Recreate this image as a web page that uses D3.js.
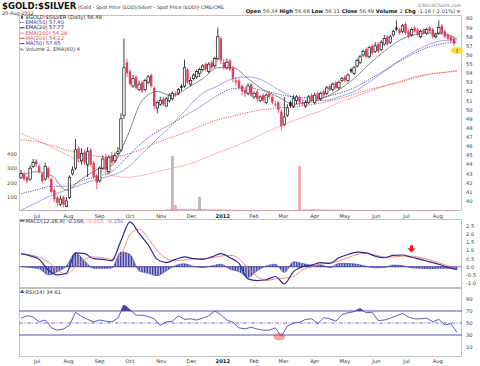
<!DOCTYPE html>
<html>
<head>
<meta charset="utf-8">
<script src="https://cdn.jsdelivr.net/npm/d3@7"></script>
<style>
  body { margin: 0; background: #fff; }
  text { font-family: "DejaVu Sans", Verdana, sans-serif; }
</style>
</head>
<body>
<div id="chart"></div>
<script>
// one candle every 3 days, 15-Jun-2011 .. 20-Aug-2012
var firstDay = new Date(2011, 5, 15);

var opens = [
  42.6, 43.0, 42.6, 42.4, 43.8, 44.4, 43.8, 43.0, 42.4, 43.6,
  42.4, 41.2, 40.4, 39.6, 40.4, 39.4, 40.4, 43.0, 43.6, 45.8,
  44.4, 45.4, 44.0, 45.6, 44.2, 42.8, 42.2, 43.6, 44.8, 43.2,
  45.0, 44.4, 45.2, 45.6, 49.4, 55.2, 54.2, 52.6, 53.6, 52.2,
  53.0, 52.2, 53.0, 53.8, 52.4, 50.2, 50.6, 51.2, 50.4, 51.0,
  51.2, 51.8, 51.8, 52.6, 52.6, 54.4, 52.8, 53.4, 53.6, 54.0,
  54.4, 55.0, 54.2, 55.2, 54.8, 55.6, 57.8, 55.2, 54.6, 55.4,
  54.6, 53.2, 53.2, 52.6, 52.2, 51.8, 52.8, 51.4, 52.0, 51.0,
  51.6, 50.8, 51.8, 51.4, 50.6, 50.8, 49.8, 48.4, 49.4, 50.8,
  50.4, 51.0, 51.4, 50.8, 50.4, 50.8, 51.6, 50.8, 51.8, 51.2,
  52.0, 51.8, 52.6, 52.2, 53.0, 52.4, 53.2, 53.6, 53.2, 54.4,
  54.0, 54.8, 55.2, 56.0, 56.6, 55.8, 57.0, 56.4, 57.2, 56.6,
  57.2, 58.0, 57.4, 58.2, 59.0, 58.8, 58.6, 59.4, 58.6, 58.2,
  59.0, 58.8, 58.0, 58.8, 58.4, 59.0, 58.8, 58.0, 58.4, 59.2,
  58.6, 58.2, 58.0, 57.8, 56.34
];
var highs = [
  43.4, 43.2, 42.8, 43.9, 44.6, 44.6, 44.0, 43.2, 44.2, 43.8,
  42.6, 41.4, 40.6, 40.6, 40.6, 40.4, 42.8, 43.8, 46.8, 46.0,
  45.8, 45.6, 45.9, 45.8, 44.4, 43.0, 43.8, 45.0, 45.2, 45.0,
  45.4, 45.3, 45.9, 49.6, 57.8, 55.6, 54.4, 53.8, 53.8, 53.2,
  53.2, 53.4, 53.8, 54.0, 52.6, 51.0, 51.4, 51.4, 51.4, 51.8,
  52.0, 52.0, 52.4, 52.8, 55.5, 54.6, 53.6, 54.0, 54.4, 54.6,
  55.0, 55.2, 55.2, 55.4, 55.8, 59.0, 58.0, 55.6, 55.6, 55.6,
  54.8, 53.6, 53.4, 52.8, 52.4, 52.9, 52.9, 52.0, 52.2, 51.6,
  51.8, 51.8, 52.0, 51.6, 51.0, 51.0, 50.0, 51.4, 50.6, 51.0,
  51.6, 51.6, 51.6, 51.0, 51.0, 51.6, 51.8, 51.9, 52.0, 52.0,
  52.2, 52.6, 52.8, 53.0, 53.2, 53.2, 53.6, 53.8, 54.0, 54.6,
  54.8, 55.6, 56.0, 56.6, 56.8, 57.0, 57.2, 57.4, 57.4, 57.6,
  58.2, 58.2, 58.2, 58.8, 59.8, 59.0, 59.4, 59.6, 58.8, 59.0,
  59.2, 59.0, 58.8, 58.9, 59.0, 59.2, 59.0, 58.4, 59.8, 59.4,
  58.8, 58.4, 58.2, 58.0, 56.68
];
var lows = [
  42.4, 42.2, 41.9, 42.2, 43.6, 43.7, 43.0, 41.9, 42.2, 42.4,
  40.8, 39.9, 39.4, 39.4, 39.3, 39.3, 40.2, 42.8, 43.4, 44.2,
  44.0, 44.0, 42.6, 43.8, 42.4, 41.3, 42.0, 43.4, 43.1, 43.0,
  44.0, 44.2, 45.0, 45.4, 49.0, 53.6, 52.6, 52.4, 52.2, 52.0,
  51.8, 52.0, 52.8, 52.4, 50.0, 49.6, 50.4, 50.4, 50.3, 50.8,
  51.0, 51.4, 51.6, 52.0, 52.4, 52.8, 52.6, 53.2, 53.4, 53.6,
  54.2, 54.2, 54.0, 54.4, 54.6, 55.4, 55.0, 54.4, 54.4, 54.2,
  53.0, 52.6, 52.2, 51.6, 51.4, 51.6, 51.4, 51.2, 50.8, 50.8,
  50.8, 50.6, 51.2, 50.6, 50.3, 49.6, 47.7, 48.2, 49.2, 50.2,
  50.2, 50.6, 50.4, 50.4, 50.2, 50.6, 50.8, 50.6, 51.0, 51.0,
  51.4, 51.6, 52.0, 52.0, 52.2, 52.2, 53.0, 53.0, 53.0, 54.0,
  53.8, 54.6, 55.0, 55.8, 55.6, 55.6, 56.0, 56.2, 56.2, 56.4,
  57.0, 57.0, 57.2, 58.0, 58.6, 58.2, 58.4, 58.2, 57.8, 58.0,
  58.4, 58.0, 57.8, 58.2, 58.2, 58.4, 57.8, 57.8, 58.2, 58.2,
  57.8, 57.6, 57.4, 57.0, 56.11
];
var closes = [
  43.0, 42.4, 42.2, 43.6, 44.2, 44.0, 43.2, 42.2, 43.8, 42.6,
  41.0, 40.2, 39.8, 40.2, 39.6, 40.0, 42.6, 43.4, 45.6, 44.6,
  45.2, 44.2, 45.4, 44.0, 42.6, 42.0, 43.6, 44.6, 43.4, 44.8,
  44.2, 45.0, 45.4, 49.0, 54.6, 54.0, 52.8, 53.4, 52.4, 52.8,
  52.0, 53.2, 53.6, 52.6, 50.4, 50.8, 51.0, 50.6, 51.2, 51.6,
  51.8, 51.6, 52.2, 52.4, 54.6, 53.0, 53.2, 53.8, 54.2, 54.4,
  54.8, 54.4, 55.0, 54.6, 55.6, 58.0, 55.4, 54.6, 55.2, 54.4,
  53.4, 53.0, 52.4, 52.0, 51.8, 52.6, 51.6, 51.8, 51.2, 51.4,
  51.0, 51.6, 51.4, 50.8, 50.6, 50.0, 48.2, 49.2, 50.2, 50.4,
  51.2, 51.4, 50.8, 50.6, 50.8, 51.4, 51.0, 51.6, 51.2, 51.8,
  51.6, 52.4, 52.2, 52.8, 52.4, 53.0, 53.4, 53.2, 53.8, 54.2,
  54.6, 55.4, 55.8, 56.4, 55.8, 56.8, 56.2, 57.0, 56.4, 57.4,
  57.8, 57.2, 58.0, 58.6, 58.8, 58.4, 59.2, 58.4, 58.0, 58.8,
  58.6, 58.2, 58.6, 58.4, 58.8, 58.6, 58.0, 58.2, 59.0, 58.4,
  58.0, 57.8, 57.6, 57.2, 56.49
];
var volumes = [
  2, 2, 3, 2, 2, 1, 2, 2, 3, 2,
  2, 2, 3, 2, 2, 2, 3, 2, 4, 3,
  2, 2, 3, 2, 2, 3, 2, 2, 2, 2,
  2, 2, 2, 3, 5, 4, 3, 2, 2, 2,
  2, 2, 2, 2, 3, 2, 2, 2, 2, 2,
  385, 40, 3, 2, 2, 3, 2, 2, 2, 100,
  2, 2, 2, 2, 3, 4, 3, 2, 2, 2,
  2, 2, 2, 2, 2, 2, 2, 2, 2, 2,
  2, 2, 2, 2, 2, 2, 3, 2, 2, 2,
  2, 2, 315, 4, 2, 2, 2, 2, 2, 2,
  2, 2, 2, 2, 2, 2, 2, 2, 2, 2,
  2, 2, 2, 2, 2, 2, 2, 2, 2, 2,
  2, 2, 2, 2, 2, 2, 2, 2, 2, 2,
  2, 2, 2, 2, 2, 2, 2, 2, 2, 2,
  2, 2, 2, 2, 2
];

// overlays, read at every 5th candle
var maIdx  = [0, 5, 10, 15, 20, 25, 30, 35, 40, 45, 50, 55, 60, 65, 70, 75, 80, 85, 90, 95, 100, 105, 110, 115, 120, 125, 130, 135, 140, 144];
var ema20  = [42.8, 43.2, 42.8, 41.2, 42.4, 43.4, 43.9, 47.0, 51.0, 52.0, 51.5, 52.4, 53.4, 54.6, 54.6, 53.4, 52.2, 51.4, 50.6, 50.9, 51.3, 52.2, 53.4, 55.0, 56.4, 57.6, 58.2, 58.4, 58.3, 57.77];
var ema50  = [40.8, 41.2, 41.6, 41.6, 42.2, 42.7, 43.2, 44.8, 46.4, 47.6, 48.5, 49.5, 50.5, 51.6, 52.3, 52.4, 52.1, 51.7, 51.4, 51.3, 51.4, 51.8, 52.4, 53.3, 54.3, 55.3, 56.2, 56.9, 57.3, 57.40];
var ma50   = [39.0, 39.8, 40.6, 41.2, 41.8, 42.4, 42.8, 43.6, 45.2, 46.8, 48.4, 50.2, 51.8, 52.6, 53.4, 53.6, 53.2, 52.2, 51.4, 51.0, 51.0, 51.4, 52.0, 53.0, 54.2, 55.4, 56.4, 57.2, 57.6, 57.65];
var ema200 = [46.7, 46.5, 46.1, 45.6, 45.2, 44.9, 44.8, 45.1, 45.7, 46.4, 47.0, 47.6, 48.3, 48.9, 49.3, 49.7, 50.0, 50.2, 50.3, 50.5, 50.8, 51.2, 51.7, 52.2, 52.6, 53.0, 53.5, 53.9, 54.1, 54.28];
var ma200  = [47.4, 46.7, 45.9, 45.1, 44.2, 43.5, 42.8, 42.6, 42.8, 43.2, 43.6, 44.0, 44.6, 45.3, 45.9, 46.6, 47.4, 48.1, 48.8, 49.4, 50.0, 50.8, 51.4, 52.0, 52.6, 53.1, 53.6, 53.9, 54.1, 54.22];
var volEma60 = [2, 2, 2, 2, 2, 2, 2, 2, 2, 2, 14, 12, 12, 9, 7, 5, 4, 3, 3, 11, 9, 7, 5, 4, 3, 3, 3, 3, 4, 4];

// MACD(12,26,9), read at every 3rd candle
var macdIdx = d3.range(0, 145, 3);
var macdLine = [
  0.8, 0.67, 0.45, -0.2, -0.5, -0.4, 0.85, 0.8, 0.5, 0.45,
  0.37, 1.6, 2.75, 2.05, 1.35, 0.45, 0.25, 0.45, 0.6, 0.5,
  0.45, 0.6, 0.8, 0.55, 0.2, -0.75, -0.85, -0.8, -0.6, -1.05,
  -0.3, 0.0, 0.1, 0.25, 0.2, 0.55, 0.75, 0.9, 0.85, 0.65,
  0.55, 0.7, 0.72, 0.58, 0.45, 0.3, 0.15, -0.05, -0.166
];
var macdSignal = [
  0.78, 0.72, 0.58, 0.3, -0.2, -0.45, 0.0, 0.45, 0.6, 0.55,
  0.45, 0.7, 2.0, 2.3, 1.75, 1.0, 0.5, 0.38, 0.42, 0.48,
  0.5, 0.55, 0.65, 0.7, 0.5, -0.1, -0.6, -0.85, -0.75, -0.7,
  -0.6, -0.2, 0.0, 0.15, 0.25, 0.35, 0.55, 0.75, 0.82, 0.72,
  0.6, 0.6, 0.65, 0.65, 0.55, 0.42, 0.25, 0.05, -0.015
];

// RSI(14), read at every 2nd candle
var rsiIdx = d3.range(0, 145, 2);
var rsiVals = [
  58, 62, 60, 52, 55, 42, 38, 40, 46, 68,
  61, 56, 52, 55, 53, 52, 58, 80, 72, 63,
  63, 61, 57, 46, 52, 53, 62, 56, 57, 55,
  58, 62, 70, 64, 55, 51, 42, 40, 43, 40,
  38, 38, 42, 28, 45, 50, 51, 56, 57, 49,
  59, 57, 53, 64, 67, 69, 74, 67, 68, 54,
  55, 58, 62, 66, 60, 57, 57, 58, 52, 56,
  47, 49, 34.61
];

var monthLabels = ["Jul", "Aug", "Sep", "Oct", "Nov", "Dec", "2012", "Feb", "Mar", "Apr", "May", "Jun", "Jul", "Aug"];
var priceTicks = d3.range(40, 61);
var volTicks = [100, 200, 300, 400];
var macdTicks = [-1.0, -0.5, 0.0, 0.5, 1.0, 1.5, 2.0, 2.5];
var rsiTicks = [10, 30, 50, 70, 90];

var L = 19, R = 462;
var mainTop = 15, mainBot = 211;
var macdTop = 219, macdBot = 288;
var rsiTop = 288, rsiBot = 357;

var RED = "#e0405e", BLK = "#111";

var dayOf = function(i) { return d3.timeDay.offset(firstDay, 3 * i); };

var x = d3.scaleTime().domain([new Date(2011, 5, 13), new Date(2012, 7, 24)]).range([19, 461]);
var yP = d3.scaleLinear().domain([38.9, 60.6]).range([211, 13]);
var yV = d3.scaleLinear().domain([0, 400]).range([211.3, 154]);
var yM = d3.scaleLinear().domain([-1, 2.5]).range([283, 226]);
var yR = d3.scaleLinear().domain([10, 90]).range([347, 299]);

var svg = d3.select("#chart").append("svg").attr("width", 480).attr("height", 366);
svg.append("rect").attr("width", 480).attr("height", 366).attr("fill", "#fff");

var defs = svg.append("defs");
var clip = function(id, y0, y1) {
  defs.append("clipPath").attr("id", id).append("rect")
    .attr("x", L).attr("y", y0).attr("width", R - L).attr("height", y1 - y0);
};
clip("cMain", mainTop, mainBot);
clip("cMacd", macdTop, macdBot);
clip("cRsi", rsiTop, rsiBot);
defs.append("pattern").attr("id", "hatch").attr("patternUnits", "userSpaceOnUse")
  .attr("width", 1.6).attr("height", 4)
  .append("rect").attr("width", 1).attr("height", 4).attr("fill", "#2e2e9c");

var txt = function(g, xx, yy, s, size, col, anchor) {
  return g.append("text").attr("x", xx).attr("y", yy).attr("font-size", size)
    .attr("fill", col || "#333").attr("text-anchor", anchor || "start").text(s);
};

// ---------- header ----------
var t = svg.append("text").attr("x", 2).attr("y", 9);
t.append("tspan").attr("font-size", 8.5).attr("font-weight", "bold").attr("fill", "#111").text("$GOLD:$SILVER");
t.append("tspan").attr("font-size", 4.9).attr("fill", "#333").text(" (Gold - Spot Price (EOD)/Silver - Spot Price (EOD)) CME/CME");
txt(svg, 2, 14.5, "20-Aug-2012", 4.9, "#333");
txt(svg, 461, 6.5, "\u00a9StockCharts.com", 4.6, "#777", "end");

var info = [["Open", "56.34"], ["High", "56.68"], ["Low", "56.11"], ["Close", "56.49"], ["Volume", "2"], ["Chg", "-1.16 (-2.01%)"]];
var it = svg.append("text").attr("x", 455).attr("y", 13).attr("text-anchor", "end").attr("font-size", 5.2);
info.forEach(function(p, k) {
  it.append("tspan").attr("font-weight", "bold").attr("fill", "#111").text((k ? " " : "") + p[0] + " ");
  it.append("tspan").attr("fill", "#444").text(p[1]);
});
svg.append("path").attr("d", "M456.5,10.5 L460.5,10.5 L458.5,13 Z").attr("fill", RED);

// ---------- frames ----------
[[mainTop, mainBot], [macdTop, macdBot], [rsiTop, rsiBot]].forEach(function(p) {
  svg.append("rect").attr("x", L + 0.5).attr("y", p[0] + 0.5).attr("width", R - L - 1).attr("height", p[1] - p[0] - 1)
    .attr("fill", "none").attr("stroke", "#b4b4b4").attr("stroke-width", 0.8);
});

// ---------- month labels ----------
var months = d3.timeMonth.range(new Date(2011, 6, 1), new Date(2012, 7, 2));
[mainBot + 7, rsiBot + 6].forEach(function(yy) {
  months.forEach(function(m, k) {
    var lab = txt(svg, x(m), yy, monthLabels[k], 5.2, "#333", "middle");
    if (monthLabels[k] === "2012") lab.attr("font-weight", "bold").attr("fill", "#111");
  });
});

// ---------- right axes ----------
priceTicks.forEach(function(v) { txt(svg, R + 4, yP(v) + 2, String(v), 5.2, "#444"); });
macdTicks.forEach(function(v) { txt(svg, R + 4, yM(v) + 2, v.toFixed(1), 5.2, "#444"); });
rsiTicks.forEach(function(v) { txt(svg, R + 4, yR(v) + 2, String(v), 5.2, "#444"); });
volTicks.forEach(function(v) { txt(svg, L - 2, yV(v) + 2, String(v), 5.2, "#444", "end"); });

// ---------- price panel ----------
var candles = closes.map(function(c, i) {
  return { date: dayOf(i), o: opens[i], h: highs[i], l: lows[i], c: c, v: volumes[i],
           up: i === 0 ? true : c >= closes[i - 1] };
});
var gm = svg.append("g").attr("clip-path", "url(#cMain)");

// volume
gm.selectAll("rect.vol").data(candles).enter().append("rect")
  .attr("x", function(d) { return x(d.date) - 0.9; })
  .attr("width", 1.8)
  .attr("y", function(d) { return yV(d.v); })
  .attr("height", function(d) { return yV(0) - yV(d.v); })
  .attr("fill", function(d) { return d.up ? "#b9b9b9" : "#f3a4b0"; })
  .attr("stroke", function(d) { return d.up ? "#8e8e8e" : "#e8788c"; })
  .attr("stroke-width", 0.4);

var maPts = function(vals) { return vals.map(function(v, k) { return { date: dayOf(maIdx[k]), v: v }; }); };
var lineP = d3.line().x(function(d) { return x(d.date); }).y(function(d) { return yP(d.v); }).curve(d3.curveMonotoneX);
var lineV = d3.line().x(function(d) { return x(d.date); }).y(function(d) { return yV(d.v); }).curve(d3.curveMonotoneX);

gm.append("path").attr("d", lineV(maPts(volEma60))).attr("fill", "none").attr("stroke", "#f08a9a").attr("stroke-width", 0.8);

var overlays = [
  { vals: ma200, col: "#f5a3a3", w: 0.8, dash: null },
  { vals: ema200, col: "#e8494f", w: 0.9, dash: "1.2,1.2" },
  { vals: ma50, col: "#8d8de0", w: 0.8, dash: null },
  { vals: ema50, col: "#3a3aa8", w: 0.9, dash: "1.2,1.2" },
  { vals: ema20, col: "#555", w: 0.7, dash: null }
];
overlays.forEach(function(o) {
  gm.append("path").attr("d", lineP(maPts(o.vals))).attr("fill", "none")
    .attr("stroke", o.col).attr("stroke-width", o.w).attr("stroke-dasharray", o.dash);
});

var cg = gm.selectAll("g.cdl").data(candles).enter().append("g");
cg.append("line")
  .attr("x1", function(d) { return x(d.date); }).attr("x2", function(d) { return x(d.date); })
  .attr("y1", function(d) { return yP(d.h); }).attr("y2", function(d) { return yP(d.l); })
  .attr("stroke", function(d) { return d.up ? BLK : RED; }).attr("stroke-width", 0.8);
cg.append("rect")
  .attr("x", function(d) { return x(d.date) - 1.2; })
  .attr("width", 2.4)
  .attr("y", function(d) { return yP(Math.max(d.o, d.c)); })
  .attr("height", function(d) { return Math.max(0.8, Math.abs(yP(d.o) - yP(d.c))); })
  .attr("fill", function(d) { return d.c > d.o ? "#fff" : (d.up ? BLK : RED); })
  .attr("stroke", function(d) { return d.up ? BLK : RED; })
  .attr("stroke-width", function(d) { return d.c > d.o ? 0.7 : 0; });

// last price marker
var last = candles[candles.length - 1];
svg.append("ellipse").attr("cx", x(last.date)).attr("cy", yP(last.c)).attr("rx", 6).attr("ry", 3.6).attr("fill", "#f2e33a");
txt(svg, x(last.date), yP(last.c) + 2, "!", 5.5, RED, "middle").attr("font-weight", "bold");

// legend
var leg = [
  { s: "$GOLD:$SILVER (Daily) 56.49", col: "#222", icon: "cdl" },
  { s: "EMA(50) 57.40", col: "#3a3aa8", dash: "1.2,1" },
  { s: "EMA(20) 57.77", col: "#222" },
  { s: "EMA(200) 54.28", col: "#e8494f", dash: "1.2,1" },
  { s: "MA(200) 54.22", col: "#e8494f" },
  { s: "MA(50) 57.65", col: "#3a3aa8" },
  { s: "Volume 2, EMA(60) 4", col: "#444", icon: "vol" }
];
leg.forEach(function(d, k) {
  var yy = 18.8 + k * 5.3;
  if (d.icon === "cdl") {
    svg.append("line").attr("x1", 22).attr("x2", 22).attr("y1", yy - 3.2).attr("y2", yy + 0.2).attr("stroke", "#222").attr("stroke-width", 0.6);
    svg.append("rect").attr("x", 21.2).attr("y", yy - 2.5).attr("width", 1.6).attr("height", 2).attr("fill", "#222");
  } else if (d.icon === "vol") {
    svg.append("rect").attr("x", 20.5).attr("y", yy - 2.6).attr("width", 1.2).attr("height", 2.6).attr("fill", "#777");
    svg.append("rect").attr("x", 22.2).attr("y", yy - 1.6).attr("width", 1.2).attr("height", 1.6).attr("fill", "#777");
  } else {
    svg.append("line").attr("x1", 20).attr("x2", 24.5).attr("y1", yy - 1.6).attr("y2", yy - 1.6)
      .attr("stroke", d.col).attr("stroke-width", 1).attr("stroke-dasharray", d.dash || null);
  }
  txt(svg, 25.5, yy, d.s, 5.2, d.col);
});

// ---------- MACD ----------
var gd = svg.append("g").attr("clip-path", "url(#cMacd)");
var mPts = macdIdx.map(function(i, k) {
  return { date: dayOf(i), m: macdLine[k], s: macdSignal[k], h: macdLine[k] - macdSignal[k] };
});
var areaH = d3.area().x(function(d) { return x(d.date); }).y0(yM(0)).y1(function(d) { return yM(d.h); }).curve(d3.curveMonotoneX);
gd.append("path").attr("d", areaH(mPts)).attr("fill", "url(#hatch)").attr("stroke", "#3c3cb0").attr("stroke-width", 0.6);
gd.append("line").attr("x1", L).attr("x2", R).attr("y1", yM(0)).attr("y2", yM(0)).attr("stroke", "#3c3cb0").attr("stroke-width", 0.6);
gd.append("path").attr("d", d3.line().x(function(d) { return x(d.date); }).y(function(d) { return yM(d.s); }).curve(d3.curveMonotoneX)(mPts))
  .attr("fill", "none").attr("stroke", "#f0806e").attr("stroke-width", 0.9);
gd.append("path").attr("d", d3.line().x(function(d) { return x(d.date); }).y(function(d) { return yM(d.m); }).curve(d3.curveMonotoneX)(mPts))
  .attr("fill", "none").attr("stroke", "#2a2a96").attr("stroke-width", 1.2);

// red arrow over July 2012 MACD top
var ax = x(dayOf(129)), ay = yM(0.95);
svg.append("path")
  .attr("d", "M" + (ax - 1.5) + "," + (ay - 6) + " h3 v3 h2.5 l-4,4.5 l-4,-4.5 h2.5 Z")
  .attr("fill", "#e02020");

svg.append("line").attr("x1", 20).attr("x2", 24.5).attr("y1", 220.8).attr("y2", 220.8).attr("stroke", "#2a2a96").attr("stroke-width", 1.2);
var mt = svg.append("text").attr("x", 25.5).attr("y", 222.6).attr("font-size", 5.2);
mt.append("tspan").attr("fill", "#333").text("MACD(12,26,9) ");
mt.append("tspan").attr("fill", "#2a2a96").text("-0.166, ");
mt.append("tspan").attr("fill", "#f0806e").text("-0.015, ");
mt.append("tspan").attr("fill", "#6a6ad0").text("-0.150");

// ---------- RSI ----------
var gr = svg.append("g").attr("clip-path", "url(#cRsi)");
var rPts = rsiIdx.map(function(i, k) { return { date: dayOf(i), v: rsiVals[k] }; });
defs.append("clipPath").attr("id", "cHi").append("rect").attr("x", L).attr("y", rsiTop).attr("width", R - L).attr("height", yR(70) - rsiTop);
defs.append("clipPath").attr("id", "cLo").append("rect").attr("x", L).attr("y", yR(30)).attr("width", R - L).attr("height", rsiBot - yR(30));
var rArea = function(lvl) {
  return d3.area().x(function(d) { return x(d.date); }).y0(yR(lvl)).y1(function(d) { return yR(d.v); }).curve(d3.curveMonotoneX);
};
gr.append("path").attr("d", rArea(70)(rPts)).attr("fill", "#4444b0").attr("clip-path", "url(#cHi)");
gr.append("path").attr("d", rArea(30)(rPts)).attr("fill", "#4444b0").attr("clip-path", "url(#cLo)");
[70, 30].forEach(function(v) {
  gr.append("line").attr("x1", L).attr("x2", R).attr("y1", yR(v)).attr("y2", yR(v)).attr("stroke", "#5555b5").attr("stroke-width", 1);
});
gr.append("line").attr("x1", L).attr("x2", R).attr("y1", yR(50)).attr("y2", yR(50))
  .attr("stroke", "#5555b5").attr("stroke-width", 0.8).attr("stroke-dasharray", "4,1.5,1,1.5");
gr.append("path").attr("d", d3.line().x(function(d) { return x(d.date); }).y(function(d) { return yR(d.v); })(rPts))
  .attr("fill", "none").attr("stroke", "#4848b4").attr("stroke-width", 0.9);

// highlighted RSI low
svg.append("ellipse").attr("cx", x(dayOf(86)) - 2).attr("cy", yR(27)).attr("rx", 6).attr("ry", 3.8).attr("fill", "rgba(235,80,80,0.5)");

svg.append("path").attr("d", "M20,293 L22.2,289.6 L24.4,293 Z").attr("fill", "#4444b0");
txt(svg, 25.5, 294, "RSI(14) 34.61", 5.2, "#333");
</script>
</body>
</html>
